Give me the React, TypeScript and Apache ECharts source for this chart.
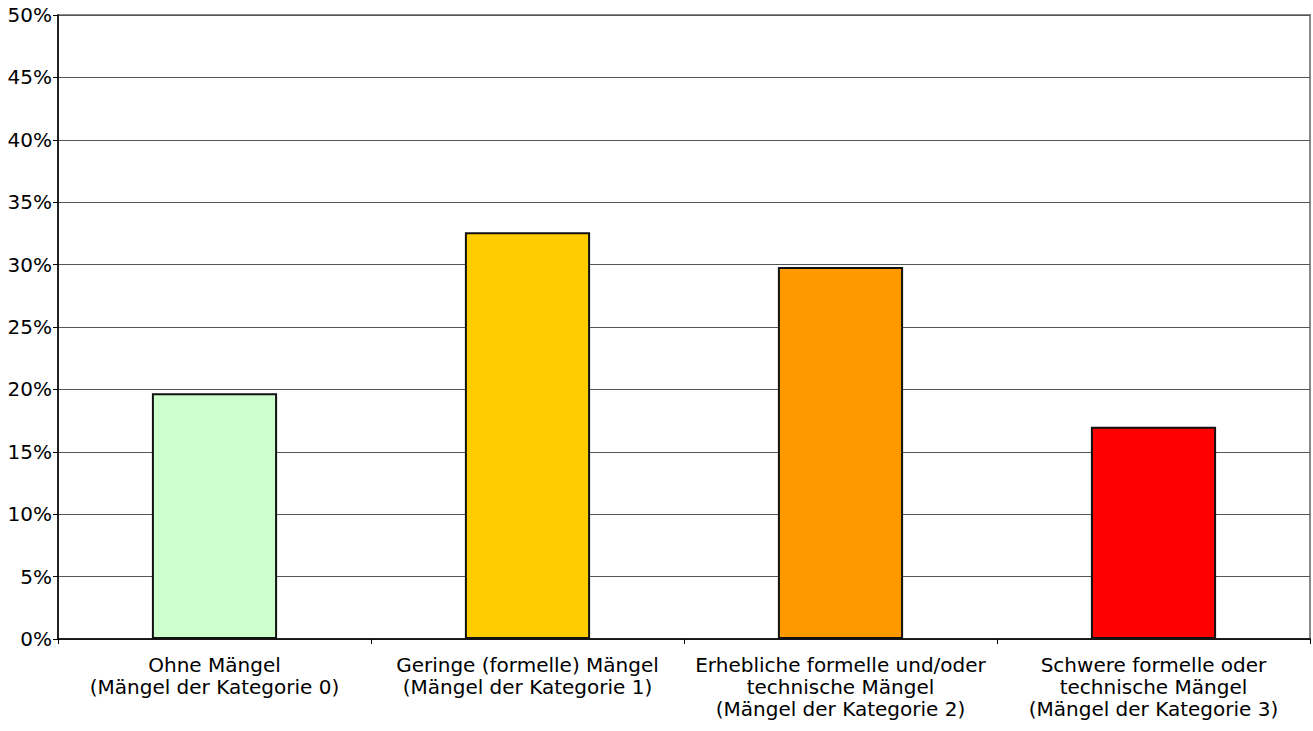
import React, { useEffect, useRef } from "react";
import * as echarts from "echarts";

const categories = [
  "Ohne Mängel\n(Mängel der Kategorie 0)",
  "Geringe (formelle) Mängel\n(Mängel der Kategorie 1)",
  "Erhebliche formelle und/oder\ntechnische Mängel\n(Mängel der Kategorie 2)",
  "Schwere formelle oder\ntechnische Mängel\n(Mängel der Kategorie 3)",
];
const values = [19.7, 32.6, 29.8, 17.0];
const barColors = ["#CCFFCC", "#FFCC00", "#FF9900", "#FF0000"];

export default function App() {
  const ref = useRef<HTMLDivElement>(null);
  useEffect(() => {
    if (!ref.current) return;
    const chart = echarts.init(ref.current, null, { renderer: "svg" });
    chart.setOption({
      animation: false,
      textStyle: { fontFamily: "DejaVu Sans", color: "#000" },
      grid: {
        left: 58,
        right: 3,
        top: 15,
        bottom: 92,
        show: true,
        borderColor: "#888",
        borderWidth: 2,
        containLabel: false,
      },
      xAxis: {
        type: "category",
        data: categories,
        axisLine: { show: true, lineStyle: { color: "#000", width: 1.5 } },
        axisTick: { show: true, alignWithLabel: false, length: 5, lineStyle: { color: "#000" } },
        axisLabel: {
          color: "#000",
          fontSize: 20,
          lineHeight: 22,
          fontFamily: "DejaVu Sans",
          margin: 15,
          interval: 0,
        },
        splitLine: { show: false },
      },
      yAxis: {
        type: "value",
        min: 0,
        max: 50,
        interval: 5,
        axisLine: { show: true, lineStyle: { color: "#000", width: 1.5 } },
        axisTick: { show: true, length: 5, lineStyle: { color: "#000" } },
        axisLabel: {
          color: "#000",
          fontSize: 20,
          fontFamily: "DejaVu Sans",
          margin: 6,
          formatter: "{value}%",
        },
        splitLine: { show: true, lineStyle: { color: "#555", width: 1 } },
      },
      series: [
        {
          type: "bar",
          data: values.map((v, i) => ({
            value: v,
            itemStyle: { color: barColors[i] },
          })),
          barWidth: "40%",
          itemStyle: { borderColor: "#111", borderWidth: 2 },
        },
      ],
    });
    return () => chart.dispose();
  }, []);
  return (
    <div
      ref={ref}
      style={{ position: "absolute", left: 0, top: 0, width: 1313, height: 731 }}
    />
  );
}
